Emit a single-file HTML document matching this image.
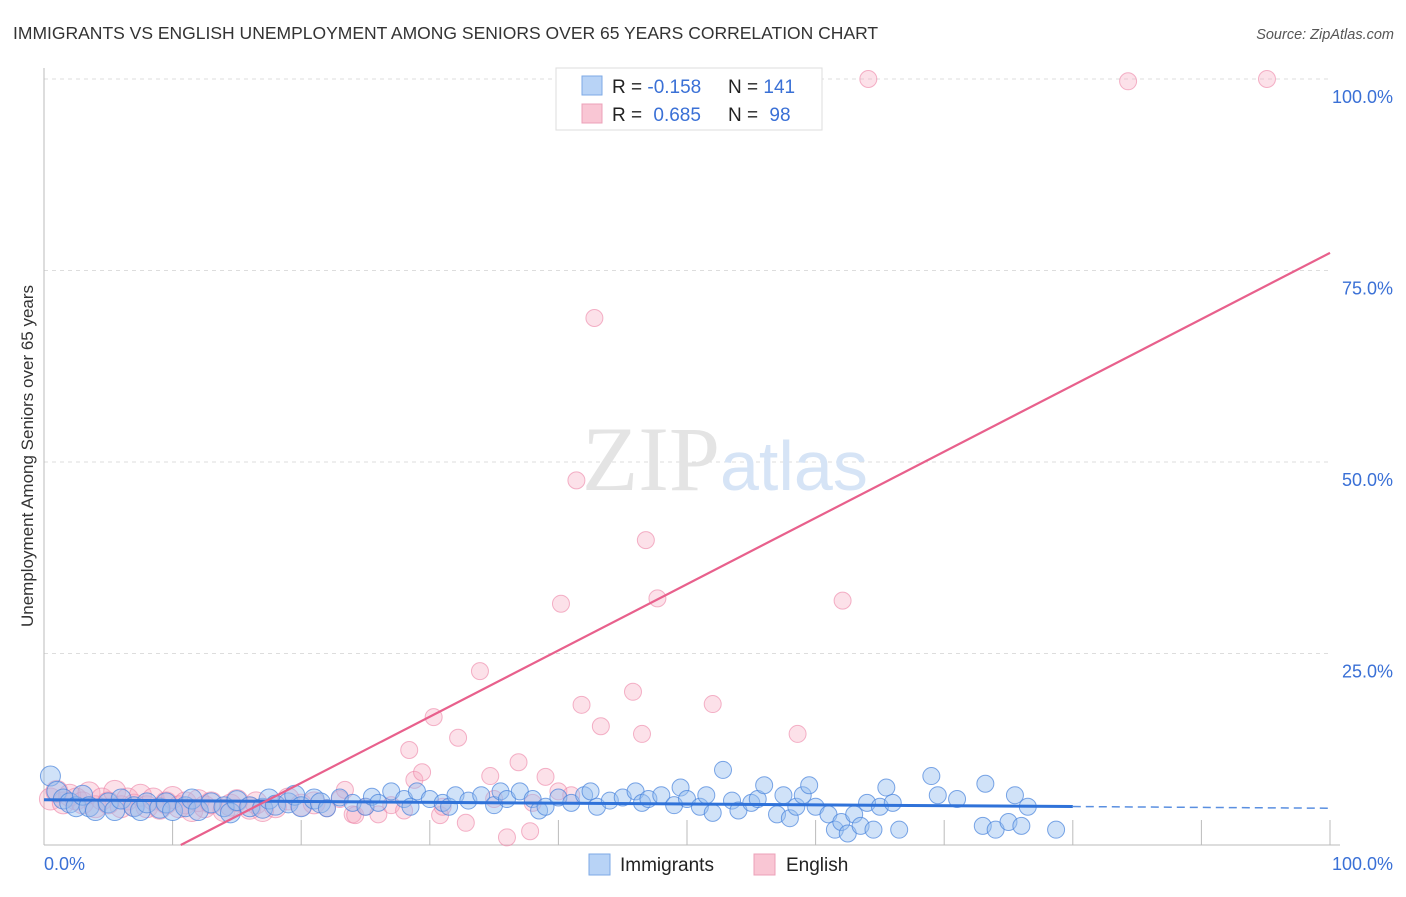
<!DOCTYPE html>
<html><head><meta charset="utf-8"><style>
body{margin:0;background:#fff;font-family:"Liberation Sans",sans-serif;}
svg text{font-family:"Liberation Sans",sans-serif;}
</style></head><body>
<svg id="chart" width="1406" height="892">
<text x="13" y="39" font-size="17.5" fill="#333">IMMIGRANTS VS ENGLISH UNEMPLOYMENT AMONG SENIORS OVER 65 YEARS CORRELATION CHART</text>
<text x="1394" y="39" font-size="14.5" fill="#555" font-style="italic" text-anchor="end">Source: ZipAtlas.com</text>
<text x="0" y="0" transform="translate(33,456) rotate(-90)" font-size="17" fill="#333" text-anchor="middle">Unemployment Among Seniors over 65 years</text>
<g id="grid"></g>
<text x="720" y="490" font-size="92" fill="#e4e4e4" font-family="Liberation Serif" text-anchor="end" style="font-family:'Liberation Serif',serif">ZIP</text>
<text x="720" y="490" font-size="70" fill="#d6e4f6">atlas</text>
<g id="pts"></g>
<g id="lines"></g>
<g>
<rect x="556" y="68" width="266" height="62" fill="#fff" stroke="#ddd"/>
<rect x="582" y="76" width="20" height="19" fill="#b8d3f6" stroke="#7eaae6"/>
<rect x="582" y="104" width="20" height="19" fill="#f9c6d4" stroke="#eca0b8"/>
<text x="612" y="93" font-size="19" fill="#222">R = <tspan fill="#3a70d6">-0.158</tspan></text>
<text x="728" y="93" font-size="19" fill="#222">N = <tspan fill="#3a70d6">141</tspan></text>
<text x="612" y="121" font-size="19" fill="#222">R = <tspan fill="#3a70d6" dx="6">0.685</tspan></text>
<text x="728" y="121" font-size="19" fill="#222">N = <tspan fill="#3a70d6" dx="6">98</tspan></text>
</g>
<g>
<rect x="589" y="854" width="21" height="21" fill="#b8d3f6" stroke="#7eaae6"/>
<text x="620" y="871" font-size="19" fill="#222">Immigrants</text>
<rect x="754" y="854" width="21" height="21" fill="#f9c6d4" stroke="#eca0b8"/>
<text x="786" y="871" font-size="19" fill="#222">English</text>
</g>
</svg>
<script>
const yTicks=[25,50,75,100];
const yTickLabels=["25.0%","50.0%","75.0%","100.0%"];
const blueX=[0.5,1,1.5,2,2.5,3,3.5,4,5,5.5,6,7,7.5,8,9,9.5,10,11,11.5,12,13,14,14.5,15,16,17,17.5,18,19,19.5,20,21,21.5,22,23,24,25,25.5,26,27,28,28.5,29,30,31,31.5,32,33,34,35,35.5,36,37,38,38.5,39,40,41,42,42.5,43,44,45,46,46.5,47,48,49,49.5,50,51,51.5,52,52.8,53.5,54,55,55.5,56,57,57.5,58,58.5,59,59.5,60,61,61.5,62,62.5,63,63.5,64,64.5,65,65.5,66,66.5,69,69.5,71,73,73.2,74,75,75.5,76,76.5,78.7];
const blueY=[9,7,6,5.5,5,6.5,5,4.5,5.5,4.5,6,5,4.5,5.5,4.8,5.5,4.5,5,6,4.5,5.5,5,4.2,5.8,5,4.8,6,5.2,5.5,6.5,5,6,5.5,4.8,6.2,5.5,5,6.3,5.5,7,6,5,7,6,5.5,5,6.5,5.8,6.5,5.2,7,6,7,6,4.5,5,6.2,5.5,6.5,7,5,5.8,6.2,7,5.5,6,6.5,5.2,7.5,6,5,6.5,4.2,9.8,5.8,4.5,5.5,6,7.8,4,6.5,3.5,5,6.5,7.8,5,4,2,3,1.5,4,2.5,5.5,2,5,7.5,5.5,2,9,6.5,6,2.5,8,2,3,6.5,2.5,5,2];
const pinkX=[0.5,1,1.5,2,2.5,3,3.5,4,4.5,5,5.5,6,6.5,7,7.5,8,8.5,9,9.5,10,10.5,11,11.5,12,12.5,13,14,14.5,15,16,16.5,17,18,19,20,21,22,23,23.4,24,24.2,25,26,27,28,28.4,28.8,29.4,30.3,30.8,31,32.2,32.8,33.9,34.7,35,36,36.9,37.8,38,39,40,40.2,41,41.4,41.8,42.8,43.3,45.8,46.5,46.8,47.7,49.3,52,53.3,58.6,62.1,64.1,84.3,95.1];
const pinkY=[6,7,5.5,6.5,6,5.5,6.8,5,6,5.5,7,5,6,5.2,6.5,5,6,4.8,5.5,6.2,5,5.5,4.5,5.8,5,5.5,4.5,5.2,5.8,4.8,5.5,4.5,5,6,5.2,5.5,4.8,6,7.2,4,3.9,5,4,5.2,4.5,12.4,8.5,9.5,16.7,3.9,5,14,2.9,22.7,9,6,1,10.8,1.8,5.5,8.9,7,31.5,6.5,47.6,18.3,68.8,15.5,20,14.5,39.8,32.2,100,18.4,100,14.5,31.9,100,99.7,100];
const blueTrend=[5.9,4.8];
const pinkTrend=[-9.2,77.3];
const X0=44,X1=1330,Y0=845,Y100=79;
const sx=v=>X0+(X1-X0)*v/100, sy=v=>Y0-(Y0-Y100)*v/100;
const NS="http://www.w3.org/2000/svg";
function mk(tag,attrs,parent){const e=document.createElementNS(NS,tag);for(const k in attrs)e.setAttribute(k,attrs[k]);parent.appendChild(e);return e;}
const grid=document.getElementById('grid');
yTicks.forEach((t,i)=>{
 const l=mk('line',{x1:X0,x2:X1,y1:sy(t),y2:sy(t),stroke:'#ddd','stroke-dasharray':'4 4'},grid);
 
 
 const tx=mk('text',{x:1393,y:sy(t)+24,'font-size':18,fill:'#3a70d6','text-anchor':'end'},grid);
 tx.textContent=yTickLabels[i];
 
 
});
const ax=mk('line',{x1:X0,x2:X1+10,y1:Y0,y2:Y0,stroke:'#bbb'},grid);


const ay=mk('line',{x1:X0,x2:X0,y1:68,y2:Y0,stroke:'#bbb'},grid);


for(let i=1;i<=10;i++){const tk=mk('line',{x1:sx(i*10),x2:sx(i*10),y1:Y0-25,y2:Y0,stroke:'#bbb'},grid);
 
 }
const xl=mk('text',{x:44,y:870,'font-size':18,fill:'#3a70d6'},grid);xl.textContent="0.0%";


const xr=mk('text',{x:1393,y:870,'font-size':18,fill:'#3a70d6','text-anchor':'end'},grid);xr.textContent="100.0%";


const pts=document.getElementById('pts');
pinkX.forEach((x,i)=>{const c=mk('circle',{cx:sx(x),cy:sy(pinkY[i]),r:x<22?11:8.5,fill:'rgba(246,170,192,0.35)',stroke:'rgba(236,130,165,0.6)'},pts);
 
 });
blueX.forEach((x,i)=>{const c=mk('circle',{cx:sx(x),cy:sy(blueY[i]),r:x<22?10:8.5,fill:'rgba(150,190,240,0.45)',stroke:'rgba(70,130,220,0.7)'},pts);
 
 });
const lines=document.getElementById('lines');
const bv=x=>blueTrend[0]+(blueTrend[1]-blueTrend[0])*x/100;
const b1=mk('line',{x1:sx(0),y1:sy(bv(0)),x2:sx(80),y2:sy(bv(80)),stroke:'#2f72d9','stroke-width':3},lines);


const b2=mk('line',{x1:sx(80),y1:sy(bv(80)),x2:sx(100),y2:sy(bv(100)),stroke:'#5a8fe0','stroke-width':1.5,'stroke-dasharray':'8 5'},lines);


const pv=x=>pinkTrend[0]+(pinkTrend[1]-pinkTrend[0])*x/100;
const x0=-pinkTrend[0]*100/(pinkTrend[1]-pinkTrend[0]);
const p1=mk('line',{x1:sx(x0),y1:sy(pv(x0)),x2:sx(100),y2:sy(pv(100)),stroke:'#e8608c','stroke-width':2.2},lines);


</script>
</body></html>
